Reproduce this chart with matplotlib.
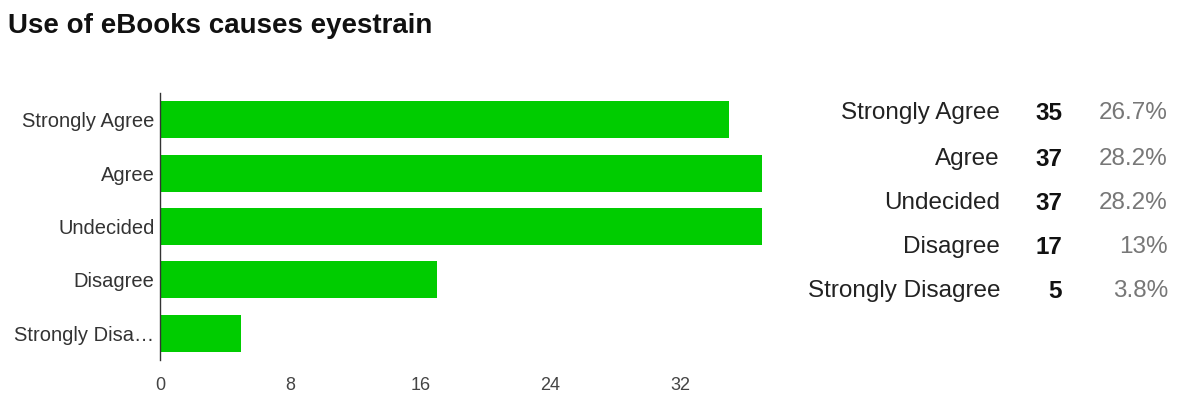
import matplotlib.pyplot as plt

plt.rcParams['font.family'] = ['Liberation Sans', 'DejaVu Sans']

categories = ['Strongly Agree', 'Agree', 'Undecided', 'Disagree', 'Strongly Disagree']
tick_labels = ['Strongly Agree', 'Agree', 'Undecided', 'Disagree', 'Strongly Disa\u2026']
counts = [35, 37, 37, 17, 5]
percents = ['26.7%', '28.2%', '28.2%', '13%', '3.8%']
xticks = [0, 8, 16, 24, 32]

W, H = 1177, 393
fig = plt.figure(figsize=(W / 100, H / 100), dpi=100)

# bar chart area (pixel coords from the reference)
ax = fig.add_axes([160 / W, 33 / H, (762 - 160) / W, (300 - 33) / H])
ypos = list(range(len(categories)))
ax.barh(ypos, counts, height=0.69, color='#00cc00', edgecolor='none')
ax.set_xlim(0, 37)
ax.set_ylim(4.5, -0.5)
ax.set_yticks(ypos)
ax.set_yticklabels(tick_labels, fontsize=14.5, color='#333333')
ax.set_xticks(xticks)
ax.set_xticklabels([str(v) for v in xticks], fontsize=13, color='#444444')
ax.tick_params(length=0, pad=4)
ax.tick_params(axis='x', pad=12)
for s in ['top', 'right', 'bottom']:
    ax.spines[s].set_visible(False)
ax.spines['left'].set_color('#333333')
ax.spines['left'].set_linewidth(1)

# title
fig.text(8 / W, 1 - 26 / H, 'Use of eBooks causes eyestrain', fontsize=20,
         fontweight='bold', color='#111111', va='center', ha='left')

# summary table on the right
row_y = [113, 159, 203, 247, 291]
for name, c, p, y in zip(categories, counts, percents, row_y):
    fy = 1 - y / H
    fig.text(1000 / W, fy, name, fontsize=17.5, color='#222222', ha='right', va='center')
    fig.text(1062 / W, fy, str(c), fontsize=17.5, fontweight='bold', color='#111111',
             ha='right', va='center')
    fig.text(1168 / W, fy, p, fontsize=17.5, color='#777777', ha='right', va='center')

fig.savefig('out.png', dpi=100)
